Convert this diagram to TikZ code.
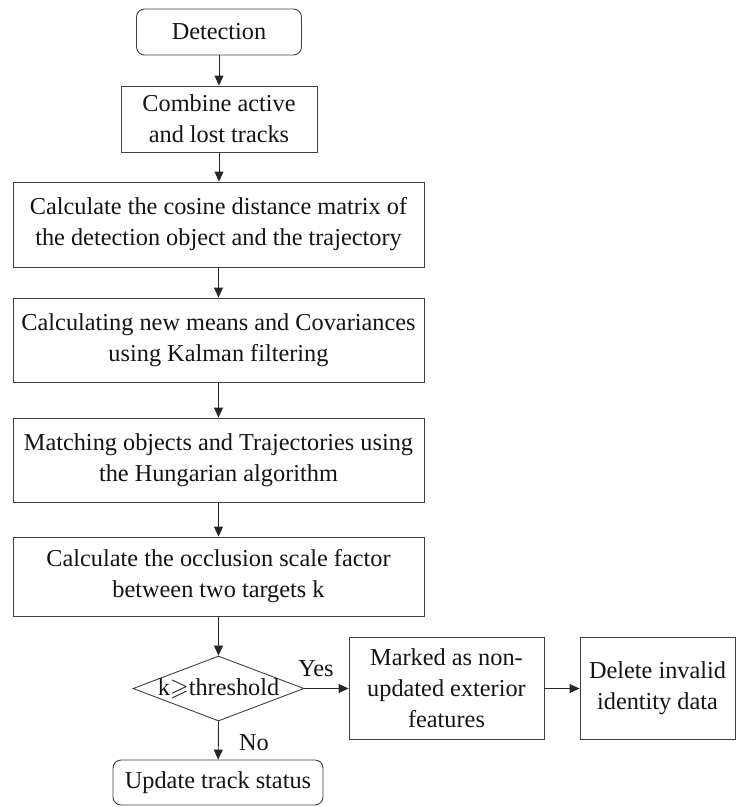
\documentclass[tikz,border=0pt]{standalone}
\usepackage{amssymb}
\usepackage{fontspec}
\setmainfont{Liberation Serif}
\usetikzlibrary{arrows.meta,shapes.geometric}
\begin{document}
\begin{tikzpicture}[x=1pt,y=1pt,
  font=\fontsize{24.3}{31}\selectfont,
  every node/.style={text=black!92},
  box/.style={draw=black!75, line width=0.9pt, fill=white, align=center, inner sep=0pt},
  roundbox/.style={box, rounded corners=8pt},
  decision/.style={draw=black!75, line width=0.9pt, diamond, inner sep=0pt,
    minimum width=171pt, minimum height=65pt},
  flow/.style={draw=black!85, line width=0.9pt, -{Triangle[length=10pt,width=9pt]}}
]
\useasboundingbox (0,0) rectangle (736,-807);

% main column
\node[roundbox, minimum width=165pt, minimum height=46pt] (det) at (219,-32) {Detection};
\node[box, minimum width=196pt, minimum height=66pt] (comb) at (219,-119)
  {Combine active\\and lost tracks};
\node[box, minimum width=411pt, minimum height=85pt] (cos) at (218.5,-224.5)
  {Calculate the cosine distance matrix of\\the detection object and the trajectory};
\node[box, minimum width=411pt, minimum height=84pt] (kal) at (218.5,-340)
  {Calculating new means and Covariances\\using Kalman filtering};
\node[box, minimum width=411pt, minimum height=84pt] (hun) at (218.5,-460)
  {Matching objects and Trajectories using\\the Hungarian algorithm};
\node[box, minimum width=411pt, minimum height=79pt] (occ) at (218.5,-576.5)
  {Calculate the occlusion scale factor\\between two targets k};

% decision
\node[decision] (dec) at (218.5,-688.5) {};
\node (dect) at (dec.center) {k$\geqslant$threshold};

\node[roundbox, minimum width=210pt, minimum height=45pt] (upd) at (218,-782.5)
  {Update track status};

% right branch
\node[box, minimum width=195pt, minimum height=102pt] (mark) at (446.5,-688.5)
  {Marked as non-\\updated exterior\\features};
\node[box, minimum width=155pt, minimum height=102pt] (del) at (657.5,-688.5)
  {Delete invalid\\identity data};

% connectors
\draw[flow] (det) -- (comb);
\draw[flow] (comb) -- (comb |- cos.north);
\draw[flow] (cos) -- (kal);
\draw[flow] (kal) -- (hun);
\draw[flow] (hun) -- (occ);
\draw[flow] (occ) -- (dec.north);
\draw[flow] (dec.south) -- (upd);
\draw[flow] (dec.east) -- (mark);
\draw[flow] (mark) -- (del);

% branch labels
\node (yes) at (316,-669) {Yes};
\node (no) at (254,-743) {No};
\end{tikzpicture}
\end{document}
